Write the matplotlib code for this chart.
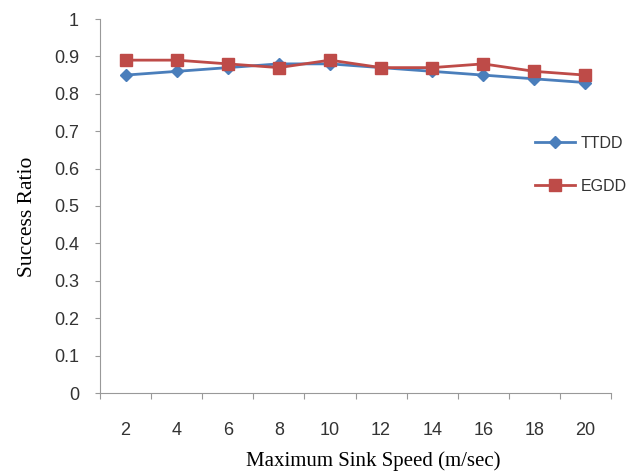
import matplotlib
matplotlib.use('Agg')
import matplotlib.pyplot as plt
import numpy as np

speeds = ['2', '4', '6', '8', '10', '12', '14', '16', '18', '20']
ttdd = [0.85, 0.86, 0.87, 0.88, 0.88, 0.87, 0.86, 0.85, 0.84, 0.83]
egdd = [0.89, 0.89, 0.88, 0.87, 0.89, 0.87, 0.87, 0.88, 0.86, 0.85]
yticks = [0, 0.1, 0.2, 0.3, 0.4, 0.5, 0.6, 0.7, 0.8, 0.9, 1]

fig = plt.figure(figsize=(6.27, 4.75), dpi=100)
ax = fig.add_axes([100/627, 1 - 393/475, 511/627, 374/475])

x = np.arange(len(speeds))
ax.plot(x, ttdd, color='#4a7ebb', linewidth=2, marker='D', markersize=6, label='TTDD')
ax.plot(x, egdd, color='#be4b48', linewidth=2, marker='s', markersize=8, label='EGDD')

ax.set_xlim(-0.5, len(speeds) - 0.5)
ax.set_ylim(0, 1)

# category boundaries as tick marks, labels in the middle
ax.set_xticks(np.arange(len(speeds) + 1) - 0.5)
ax.set_xticklabels([])
ax.set_xticks(x, minor=True)
ax.set_xticklabels(speeds, minor=True, fontsize=13, fontfamily='Liberation Sans', color='#333333')
ax.tick_params(axis='x', which='major', length=4.5, color='#999999', direction='out')
ax.tick_params(axis='x', which='minor', length=0, pad=21)

ax.set_yticks(yticks)
ax.set_yticklabels([('%g' % v) for v in yticks], fontsize=13, fontfamily='Liberation Sans', color='#333333')
ax.tick_params(axis='y', length=3.6, color='#999999', direction='out', pad=11.5)

for s in ['top', 'right']:
    ax.spines[s].set_visible(False)
ax.spines['left'].set_color('#999999')
ax.spines['bottom'].set_color('#999999')

ax.set_xlabel('Maximum Sink Speed (m/sec)', fontsize=15, fontfamily='Liberation Serif')
ax.set_ylabel('Success Ratio', fontsize=15.5, fontfamily='Liberation Serif')
ax.xaxis.set_label_coords(0.534, -0.155)
ax.yaxis.set_label_coords(-0.123, 0.47)

leg = ax.legend(loc='upper left', bbox_to_anchor=(0.851, 0.688), frameon=False,
                prop={'family': 'Liberation Sans', 'size': 11.5},
                borderpad=0, borderaxespad=0,
                handlelength=2.5, labelspacing=1.75, handletextpad=0.35)
for t in leg.get_texts():
    t.set_color('#333333')

fig.savefig('out.png', dpi=100)
